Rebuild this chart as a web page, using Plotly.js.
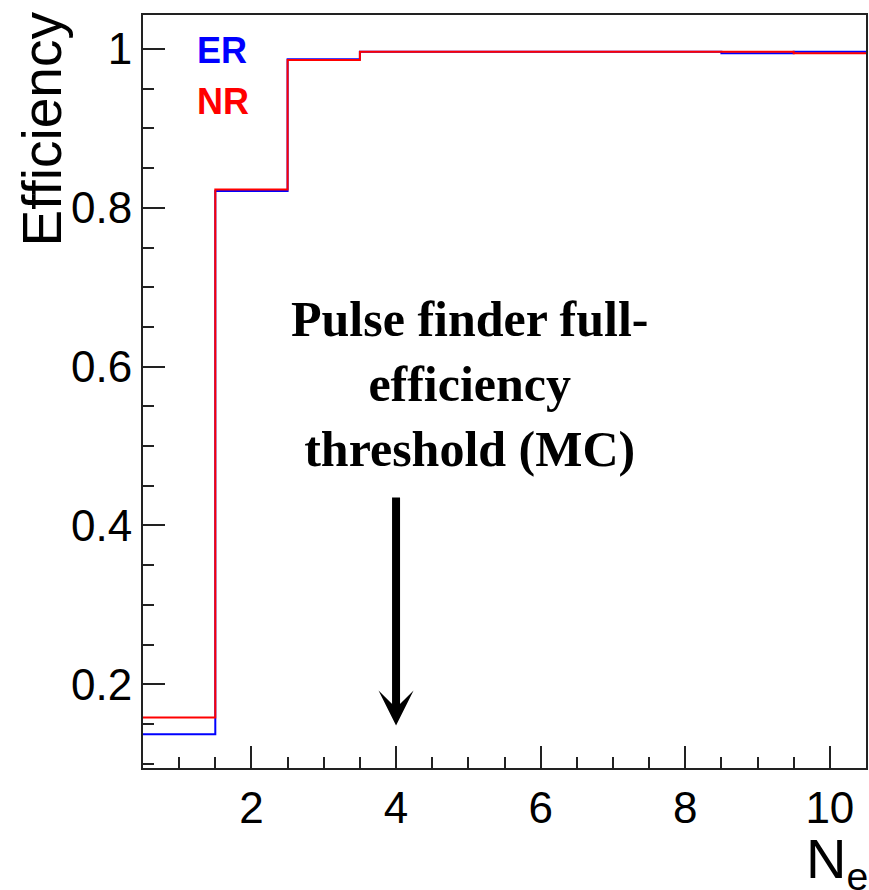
<!DOCTYPE html>
<html>
<head>
<meta charset="utf-8">
<script src="https://cdn.plot.ly/plotly-3.0.1.min.js"></script>
<style>
  html, body { margin: 0; padding: 0; background: #fff; }
  #plot { width: 869px; height: 890px; }
</style>
</head>
<body>
<div id="plot"></div>
<script>
// Number of electrons (bin centres, unit-width bins)
const binCenters = [1, 2, 3, 4, 5, 6, 7, 8, 9, 10];
// Pulse-finder efficiency per bin
const effER = [0.137, 0.821, 0.987, 0.9966, 0.9966, 0.9966, 0.9966, 0.9966, 0.9946, 0.9966];
const effNR = [0.158, 0.823, 0.986, 0.9966, 0.9966, 0.9966, 0.9966, 0.9966, 0.9966, 0.9946];
// Arrow marking the full-efficiency threshold
const thresholdNe = 4;
const arrowTail = 0.437;
const arrowTip = 0.148;

// Histogram outline: left bin edges plus the final right edge, last value repeated
function stepXY(centers, vals) {
  const xs = centers.map(c => c - 0.5);
  xs.push(centers[centers.length - 1] + 0.5);
  const ys = vals.slice();
  ys.push(vals[vals.length - 1]);
  return { x: xs, y: ys };
}

const er = stepXY(binCenters, effER);
const nr = stepXY(binCenters, effNR);

const traces = [
  { x: er.x, y: er.y, type: 'scatter', mode: 'lines', name: 'ER',
    line: { shape: 'hv', color: '#0000ff', width: 2 }, hoverinfo: 'skip' },
  { x: nr.x, y: nr.y, type: 'scatter', mode: 'lines', name: 'NR',
    line: { shape: 'hv', color: '#ff0000', width: 2 }, hoverinfo: 'skip' }
];

const sans = 'Liberation Sans, Arial, sans-serif';

const axisCommon = {
  showgrid: false, zeroline: false,
  showline: true, linecolor: '#222', linewidth: 2, mirror: true,
  ticks: 'inside', tickcolor: '#222', tickwidth: 2, ticklen: 22,
  tickfont: { family: sans, size: 44, color: '#000' }
};

const layout = {
  width: 869, height: 890,
  margin: { l: 143, r: 3, t: 15, b: 122 },
  paper_bgcolor: '#fff', plot_bgcolor: '#fff',
  showlegend: false,
  xaxis: Object.assign({}, axisCommon, {
    range: [0.5, 10.5], tick0: 0, dtick: 2,
    minor: { dtick: 0.5, tick0: 0, ticks: 'inside', ticklen: 11, tickwidth: 2, tickcolor: '#222' }
  }),
  yaxis: Object.assign({}, axisCommon, {
    range: [0.0945, 1.0428], tick0: 0, dtick: 0.2,
    ticklabelstandoff: 0,
    minor: { dtick: 0.05, tick0: 0, ticks: 'inside', ticklen: 11, tickwidth: 2, tickcolor: '#222' }
  }),
  annotations: [
    { text: 'Efficiency', xref: 'paper', yref: 'paper', x: -0.1397, y: 1.008,
      xanchor: 'center', yanchor: 'top', textangle: -90, showarrow: false,
      font: { family: sans, size: 55, color: '#000' } },
    { text: 'N<sub>e</sub>', xref: 'paper', yref: 'paper', x: 1.005, y: -0.0757,
      xanchor: 'right', yanchor: 'top', showarrow: false,
      font: { family: sans, size: 56, color: '#000' } },
    { text: '<b>ER</b>', xref: 'paper', yref: 'paper', x: 0.072, y: 0.953,
      xanchor: 'left', yanchor: 'middle', showarrow: false,
      font: { family: sans, size: 36, color: '#0000ff' } },
    { text: '<b>NR</b>', xref: 'paper', yref: 'paper', x: 0.072, y: 0.885,
      xanchor: 'left', yanchor: 'middle', showarrow: false,
      font: { family: sans, size: 36, color: '#ff0000' } },
    { text: '<b>Pulse finder full-<br>efficiency<br>threshold (MC)</b>',
      xref: 'paper', yref: 'paper', x: 0.451, y: 0.510,
      xanchor: 'center', yanchor: 'middle', align: 'center', showarrow: false,
      font: { family: 'Liberation Serif, Times New Roman, serif', size: 50, color: '#000' } },
    { text: '', xref: 'x', yref: 'y', x: thresholdNe, y: arrowTip,
      axref: 'x', ayref: 'y', ax: thresholdNe, ay: arrowTail,
      showarrow: true, arrowhead: 3, arrowsize: 0.73, arrowwidth: 8, arrowcolor: '#000',
      standoff: 0 }
  ]
};

Plotly.newPlot('plot', traces, layout, { staticPlot: true, displayModeBar: false });
</script>
</body>
</html>
